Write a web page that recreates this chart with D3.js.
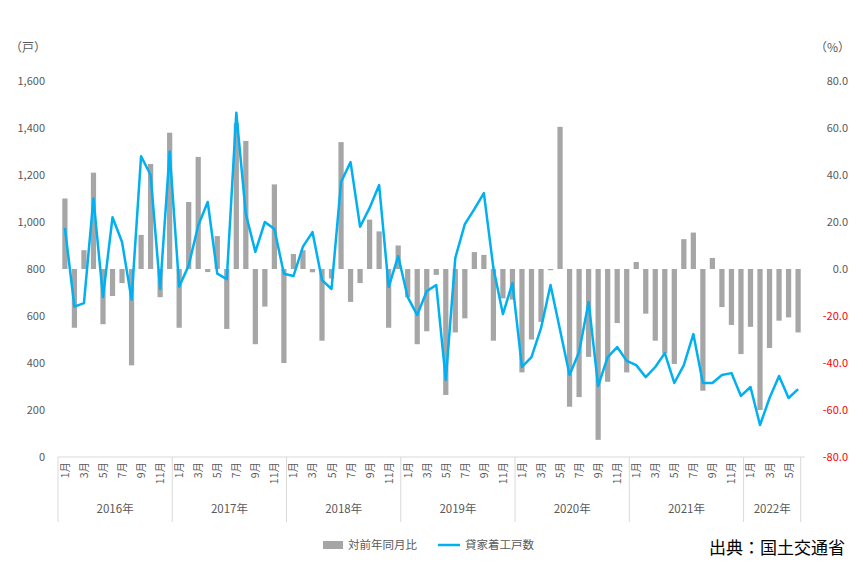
<!DOCTYPE html>
<html><head><meta charset="utf-8">
<script src="https://cdn.jsdelivr.net/npm/d3@7"></script>
<style>body{margin:0;background:#fff}text{font-family:"Noto Sans CJK JP","Noto Sans",sans-serif}</style>
</head><body><svg id="c" width="863" height="570"></svg>
<script>
const years = ["2016年","2017年","2018年","2019年","2020年","2021年","2022年"];
const yoy = [30,-25,8,41,-23.5,-11.5,-6,-41,14.5,44.7,-12,58,
  -25,28.5,47.7,-1.3,14,-25.5,62,54.5,-32,-16,36,-40,
  6.4,8,-1.4,-30.5,-4,54,-14,-6,21,16,-25,10,
  -12,-32,-26.5,-2.5,-53.6,-27,-21,7.2,6,-30.5,-12.5,-13,
  -44,-30,-22.5,-0.5,60.5,-58.6,-54.5,-37.4,-72.7,-48,-23,-44,
  3,-19,-30.5,-36,-40.4,12.7,15.5,-51.8,4.7,-16.2,-23.8,-36.2,
  -24.6,-60,-33.6,-22,-20.6,-27];
const starts = [975,640,655,1100,680,1020,915,670,1280,1200,715,1300,
  725,815,985,1085,780,757,1465,1035,873,1000,970,780,
  770,895,957,753,715,1170,1255,980,1060,1157,723,855,
  680,604,706,732,328,847,991,1055,1123,804,608,740,
  383,425,548,732,540,349,447,660,302,425,468,409,
  391,340,383,442,315,391,523,315,315,349,357,260,
  298,136,251,345,251,289];
const leftTicks = [0,200,400,600,800,1000,1200,1400,1600];
const rightTicks = [-80,-60,-40,-20,0,20,40,60,80];

const months = starts.map((d,i)=>({i, y:Math.floor(i/12), m:i%12+1}));
const svg = d3.select("#c");
const L=58, R=805, T=81, B=457;
const x = d3.scaleBand().domain(d3.range(starts.length)).range([L,R]).padding(0.45);
const yL = d3.scaleLinear().domain([0,1600]).range([B,T]);
const yR = d3.scaleLinear().domain([-80,80]).range([B,T]);

svg.append("g").selectAll("text").data(leftTicks).join("text")
  .attr("x",45).attr("y",d=>yL(d)+4).attr("text-anchor","end")
  .attr("font-size",11).attr("fill","#595959").text(d=>d3.format(",")(d));
svg.append("g").selectAll("text").data(rightTicks).join("text")
  .attr("x",848).attr("y",d=>yR(d)+4).attr("text-anchor","end")
  .attr("font-size",11).attr("fill",d=>d<0?"#ff0000":"#595959").text(d=>d.toFixed(1));
svg.append("text").attr("x",10).attr("y",52).attr("font-size",12).attr("fill","#595959").text("（戸）");
svg.append("text").attr("x",815).attr("y",52).attr("font-size",12).attr("fill","#595959").text("（%）");

// bars
svg.append("g").selectAll("rect").data(yoy).join("rect")
  .attr("x",(d,i)=>x(i)).attr("width",x.bandwidth())
  .attr("y",d=>yR(Math.max(0,d))).attr("height",d=>Math.abs(yR(d)-yR(0)))
  .attr("fill","#a6a6a6");

// axis
const step = x.step();
svg.append("line").attr("x1",L).attr("x2",R).attr("y1",B).attr("y2",B).attr("stroke","#d9d9d9");
const bounds = d3.range(0, starts.length+1, 12).concat([starts.length]);
svg.append("g").selectAll("line").data(bounds).join("line")
  .attr("x1",d=>L+d*step).attr("x2",d=>L+d*step).attr("y1",B).attr("y2",522)
  .attr("stroke","#d9d9d9");
svg.append("g").selectAll("text").data(months.filter(d=>d.m%2===1)).join("text")
  .attr("transform",d=>`translate(${x(d.i)+x.bandwidth()/2+4},${B+5}) rotate(-90)`)
  .attr("text-anchor","end").attr("font-size",10.5).attr("fill","#595959").text(d=>d.m+"月");
svg.append("g").selectAll("text").data(years).join("text")
  .attr("x",(d,k)=>{const a=k*12,b=Math.min(a+12,starts.length);return L+(a+b)/2*step;})
  .attr("y",513).attr("text-anchor","middle").attr("font-size",11.5).attr("fill","#595959").text(d=>d);

// line
svg.append("path").datum(starts)
  .attr("d",d3.line().x((d,i)=>x(i)+x.bandwidth()/2).y(d=>yL(d)))
  .attr("fill","none").attr("stroke","#00b0f0").attr("stroke-width",2.5).attr("stroke-linejoin","round");

// legend
const lg = svg.append("g").attr("transform","translate(323,545)");
lg.append("rect").attr("x",0).attr("y",-4).attr("width",20).attr("height",8).attr("fill","#a6a6a6");
lg.append("text").attr("x",25).attr("y",4).attr("font-size",11.5).attr("fill","#595959").text("対前年同月比");
lg.append("line").attr("x1",115).attr("x2",137).attr("y1",0).attr("y2",0).attr("stroke","#00b0f0").attr("stroke-width",2.5);
lg.append("text").attr("x",142).attr("y",4).attr("font-size",11.5).attr("fill","#595959").text("貸家着工戸数");
svg.append("text").attr("x",845).attr("y",554).attr("text-anchor","end").attr("font-size",17).attr("fill","#000").text("出典：国土交通省");
</script></body></html>
